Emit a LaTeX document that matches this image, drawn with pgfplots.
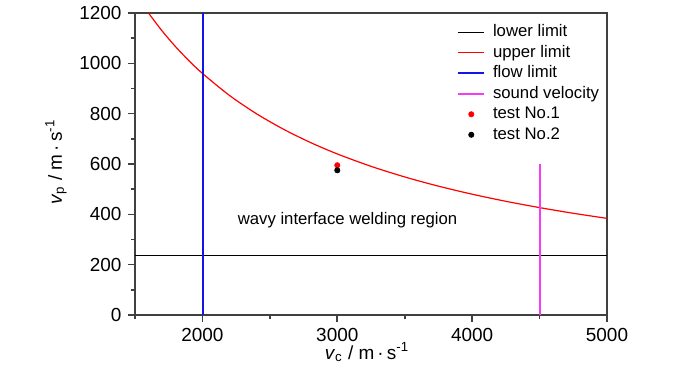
\documentclass[border=0pt]{standalone}
\usepackage{fontspec}
\setmainfont{Liberation Sans}
\usepackage{pgfplots}
\pgfplotsset{compat=1.18}
\definecolor{axgray}{RGB}{64,64,64}
\definecolor{myblue}{RGB}{20,20,230}
\definecolor{sndmag}{RGB}{245,60,245}
\pgfplotsset{
  mymarklegend/.style={legend image code/.code={\draw[mark repeat=2,mark phase=2,##1] plot coordinates {(0bp,0bp) (6.5bp,0bp) (13bp,0bp)};}}
}
\begin{document}
\begin{tikzpicture}
\begin{axis}[
  scale only axis, width=236bp, height=151bp,
  at={(0,0)}, anchor=south west,
  xmin=1500, xmax=5000, ymin=0, ymax=1200,
  xtick={2000,3000,4000,5000}, minor xtick={1500,2500,3500,4500},
  ytick={0,200,...,1200}, minor ytick={100,300,...,1100},
  axis line style={axgray, line width=1bp},
  every tick/.style={axgray, line width=0.8bp},
  tick align=outside, major tick length=3.3bp, minor tick length=2.2bp,
  xtick pos=bottom, ytick pos=left,
  ticklabel style={font=\fontsize{9.5}{11}\selectfont},
  /pgf/number format/assume math mode=true,
  /pgf/number format/1000 sep={},
  xlabel={\textit{v}\textsubscript{c} / m\,·\,s\textsuperscript{-1}},
  ylabel={\textit{v}\textsubscript{p} / m\,·\,s\textsuperscript{-1}},
  label style={font=\fontsize{9.5}{11}\selectfont},
  x label style={at={(axis description cs:0.5,0)}, anchor=center, yshift=-18.5bp, xshift=-2bp},
  y label style={at={(axis description cs:0,0.5)}, anchor=center, yshift=39.5bp, xshift=1bp},
  legend image code/.code={\draw[#1] (0bp,0bp) -- (13bp,0bp);},
  legend cell align=left,
  legend style={at={(axis description cs:0.682,0.965)}, anchor=north west,
    draw=none, fill=none, inner sep=0pt,
    font=\fontsize{8.4}{10}\selectfont,
    nodes={inner xsep=0pt, inner ysep=0pt, text height=6.3bp, text depth=2bp},
    row sep=1.95bp,
    /tikz/every odd column/.append style={column sep=3.85bp}},
]
\addplot[black, line width=0.5bp] coordinates {(1500,235) (5000,235)};
\addlegendentry{lower limit}
\addplot[red, line width=0.6bp, smooth] coordinates {
(1600,1200) (1700,1129.4) (1800,1066.7) (1900,1010.5) (2000,960)
(2200,872.7) (2400,800) (2600,738.5) (2800,685.7) (3000,640)
(3250,590.8) (3500,548.6) (3750,512) (4000,480) (4250,451.8)
(4500,426.7) (4750,404.2) (5000,384)};
\addlegendentry{upper limit}
\addplot[myblue, line width=0.9bp] coordinates {(2003,0) (2003,1200)};
\addlegendentry{flow limit}
\addplot[draw=sndmag, line width=1bp] coordinates {(4500,0) (4500,600)};
\addlegendentry{sound velocity}
\addplot[only marks, red, mark=*, mark size=1.3bp, mymarklegend] coordinates {(3000,595)};
\addlegendentry{test No.1}
\addplot[only marks, black, mark=*, mark size=1.3bp, mymarklegend] coordinates {(3000,575)};
\addlegendentry{test No.2}
\node[font=\fontsize{8.4}{10}\selectfont] at (axis cs:3076,377) {wavy interface welding region};
\end{axis}
\pgfresetboundingbox
\useasboundingbox (-67.5bp,-30bp) rectangle (282.5bp,157.5bp);
\end{tikzpicture}
\end{document}
